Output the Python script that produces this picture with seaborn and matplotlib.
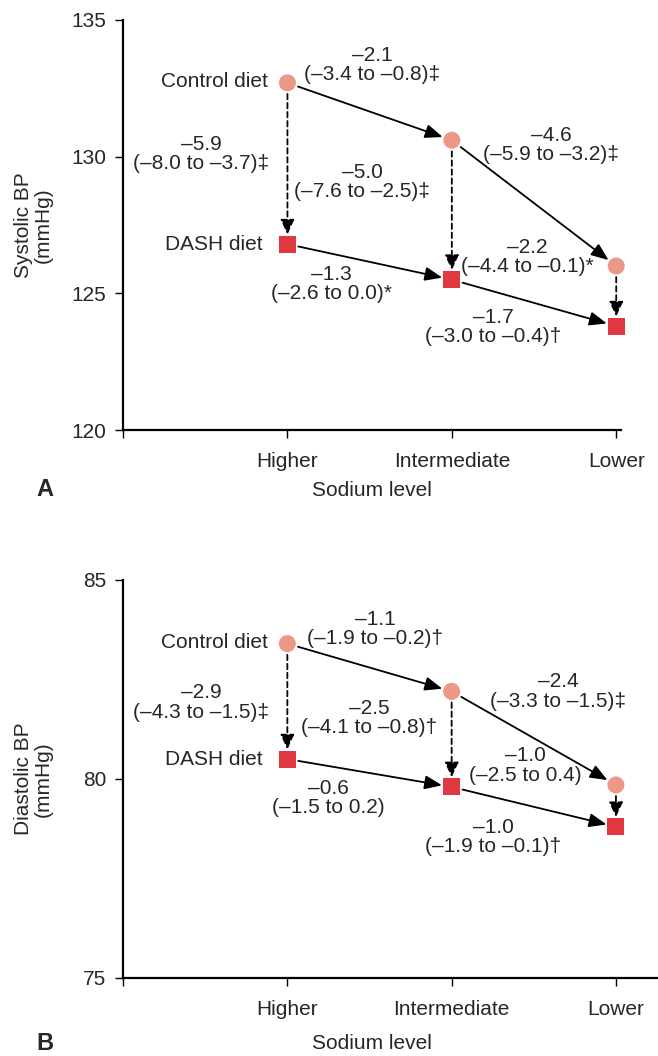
import matplotlib.pyplot as plt
import pandas as pd
import seaborn as sns

# sodium levels and diets
levels = ['Higher', 'Intermediate', 'Lower']
diets = ['Control diet', 'DASH diet']

# mean blood pressure (mmHg) at each sodium level
sbp_control = [132.7, 130.6, 126.0]
sbp_dash = [126.8, 125.5, 123.8]
dbp_control = [83.4, 82.2, 79.85]
dbp_dash = [80.5, 79.8, 78.8]

# change labels: along control line, along DASH line, between diets
sbp_control_change = ['–2.1\n(–3.4 to –0.8)‡', '–4.6\n(–5.9 to –3.2)‡']
sbp_dash_change = ['–1.3\n(–2.6 to 0.0)*', '–1.7\n(–3.0 to –0.4)†']
sbp_diet_diff = ['–5.9\n(–8.0 to –3.7)‡', '–5.0\n(–7.6 to –2.5)‡', '–2.2\n(–4.4 to –0.1)*']
dbp_control_change = ['–1.1\n(–1.9 to –0.2)†', '–2.4\n(–3.3 to –1.5)‡']
dbp_dash_change = ['–0.6\n(–1.5 to 0.2)', '–1.0\n(–1.9 to –0.1)†']
dbp_diet_diff = ['–2.9\n(–4.3 to –1.5)‡', '–2.5\n(–4.1 to –0.8)†', '–1.0\n(–2.5 to 0.4)']

# where the labels sit (data coords)
sbp_ctrl_pos = [(1.515, 133.35), (2.605, 130.43)]
sbp_dash_pos = [(1.266, 125.34), (2.252, 123.77)]
sbp_diff_pos = [(0.475, 130.1), (1.455, 129.07), (2.459, 126.33)]
dbp_ctrl_pos = [(1.535, 83.77), (2.648, 82.19)]
dbp_dash_pos = [(1.248, 79.52), (2.252, 78.54)]
dbp_diff_pos = [(0.475, 81.93), (1.497, 81.53), (2.447, 80.33)]

FS = 15
colors = {'Control diet': '#EC9888', 'DASH diet': '#E03840'}
markers = {'Control diet': 'o', 'DASH diet': 's'}


def draw_panel(ax, control, dash, ctrl_txt, dash_txt, diff_txt,
               ctrl_pos, dash_pos, diff_pos, ylim, ylabel, xlim_right, xlab_y):
    x = [1, 2, 3]
    df = pd.DataFrame({
        'x': x + x,
        'bp': control + dash,
        'diet': [diets[0]] * 3 + [diets[1]] * 3,
    })

    # arrows along each diet line
    solid = dict(arrowstyle='-|>,head_length=0.7,head_width=0.28', color='black',
                 lw=1.3, shrinkA=8, shrinkB=7, mutation_scale=15)
    for ys in (control, dash):
        for i in range(2):
            ax.annotate('', xy=(x[i + 1], ys[i + 1]), xytext=(x[i], ys[i]),
                        arrowprops=solid, annotation_clip=False)
    # dashed arrows from control to DASH
    dashed = dict(arrowstyle='-|>,head_length=0.6,head_width=0.28', color='black',
                  lw=1.3, shrinkA=8, shrinkB=7, mutation_scale=15,
                  linestyle=(0, (3, 2)))
    for i in range(3):
        ax.annotate('', xy=(x[i], dash[i]), xytext=(x[i], control[i]),
                    arrowprops=dashed, annotation_clip=False)

    sns.scatterplot(data=df, x='x', y='bp', hue='diet', style='diet',
                    palette=colors, markers=markers, s=150, linewidth=0,
                    legend=False, ax=ax, zorder=5, clip_on=False)

    for t, p in zip(ctrl_txt + dash_txt + diff_txt, ctrl_pos + dash_pos + diff_pos):
        ax.text(p[0], p[1], t, ha='center', va='center', fontsize=FS,
                linespacing=1.05)
    ax.text(0.88, control[0] + (ylim[1] - ylim[0]) * 0.004, diets[0], ha='right',
            va='center', fontsize=FS)
    ax.text(0.85, dash[0], diets[1], ha='right', va='center', fontsize=FS)

    ax.set_xlim(0, xlim_right)
    ax.set_ylim(*ylim)
    ax.set_yticks([ylim[0], (ylim[0] + ylim[1]) / 2, ylim[1]])
    ax.set_yticklabels([str(int(v)) for v in ax.get_yticks()])
    ax.set_xticks([0, 1, 2, 3])
    ax.set_xticklabels([''] + levels)
    ax.tick_params(labelsize=FS, length=6, width=1, direction='out', color='black')
    ax.tick_params(axis='y', pad=6)
    ax.tick_params(axis='x', pad=10)
    ax.set_xlabel('Sodium level', fontsize=FS)
    ax.set_ylabel(ylabel, fontsize=FS, linespacing=1.05)
    # keep label offsets the same in pixels for both panels
    width_px = ax.get_position().width * 658
    ax.yaxis.set_label_coords(-70 / width_px, 0.5)
    ax.xaxis.set_label_coords(249 / width_px, xlab_y)
    for s in ('left', 'bottom'):
        ax.spines[s].set_linewidth(1.6)
        ax.spines[s].set_color('black')
    sns.despine(ax=ax)


sns.set_style('ticks')
plt.rcParams['font.family'] = ['Liberation Sans', 'DejaVu Sans']

fig = plt.figure(figsize=(6.58, 10.56), dpi=100)
ax1 = fig.add_axes([0.187, 0.5928, 0.757, 0.3883])
ax2 = fig.add_axes([0.187, 0.0739, 0.813, 0.3769])

draw_panel(ax1, sbp_control, sbp_dash, sbp_control_change, sbp_dash_change,
           sbp_diet_diff, sbp_ctrl_pos, sbp_dash_pos, sbp_diff_pos,
           (120, 135), 'Systolic BP\n(mmHg)', 3.03, -0.125)
draw_panel(ax2, dbp_control, dbp_dash, dbp_control_change, dbp_dash_change,
           dbp_diet_diff, dbp_ctrl_pos, dbp_dash_pos, dbp_diff_pos,
           (75, 85), 'Diastolic BP\n(mmHg)', 3.256, -0.14)
ax1.set_yticks([120, 125, 130, 135])
ax1.set_yticklabels(['120', '125', '130', '135'])

fig.text(0.068, 0.536, 'A', fontsize=17, fontweight='bold', ha='center', va='center')
fig.text(0.068, 0.001, 'B', fontsize=17, fontweight='bold', ha='center', va='bottom')

fig.savefig('out.png', dpi=100)
